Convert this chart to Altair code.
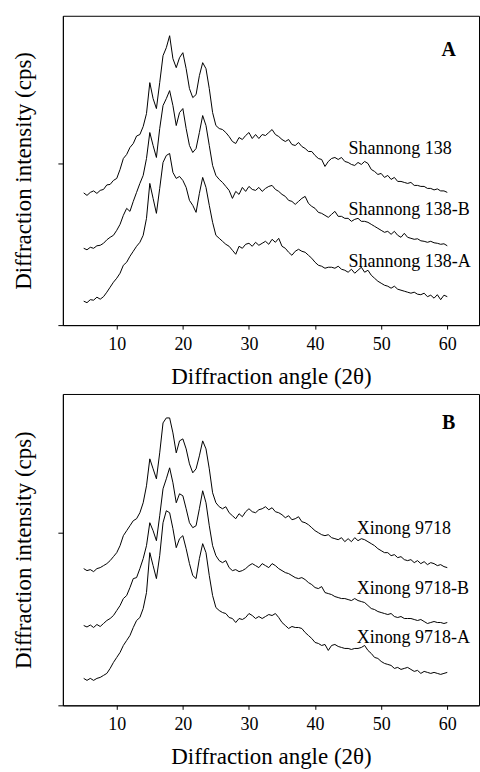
import altair as alt
import pandas as pd

# Sampling angles (2θ), degrees
ANGLES = [
    5.0, 5.5, 6.0, 6.5, 7.0, 7.5, 8.0, 8.5, 9.0, 9.5,
    10.0, 10.5, 11.0, 11.5, 12.0, 12.5, 13.0, 13.5, 14.0, 14.5,
    15.0, 15.5, 16.0, 16.5, 17.0, 17.5, 18.0, 18.5, 19.0, 19.5,
    20.0, 20.5, 21.0, 21.5, 22.0, 22.5, 23.0, 23.5, 24.0, 24.5,
    25.0, 25.5, 26.0, 26.5, 27.0, 27.5, 28.0, 28.5, 29.0, 29.5,
    30.0, 30.5, 31.0, 31.5, 32.0, 32.5, 33.0, 33.5, 34.0, 34.5,
    35.0, 35.5, 36.0, 36.5, 37.0, 37.5, 38.0, 38.5, 39.0, 39.5,
    40.0, 40.5, 41.0, 41.5, 42.0, 42.5, 43.0, 43.5, 44.0, 44.5,
    45.0, 45.5, 46.0, 46.5, 47.0, 47.5, 48.0, 48.5, 49.0, 49.5,
    50.0, 50.5, 51.0, 51.5, 52.0, 52.5, 53.0, 53.5, 54.0, 54.5,
    55.0, 55.5, 56.0, 56.5, 57.0, 57.5, 58.0, 58.5, 59.0, 59.5,
    60.0,
]

# Panel A (offset traces, arbitrary intensity units)
SHANNONG_138 = [
    132.5, 130, 133, 134.5, 132, 135, 136, 140.5, 141, 145,
    147, 156, 167, 171, 178, 182, 189.5, 191, 199, 212,
    243, 227, 217, 243, 270, 278, 290, 267, 258, 268,
    273, 257, 237, 228, 231, 250, 263, 257, 237, 213,
    200, 197, 196, 193, 189, 184, 182, 188, 186, 190,
    193, 187, 191, 187, 191, 190, 193, 196, 191, 189,
    186, 184, 186, 181, 180, 183, 179, 177, 174, 174,
    170, 167, 166, 159, 164, 167, 168, 166, 168, 164,
    163, 161, 160, 163, 161, 164, 162, 156, 154, 151,
    152, 148, 150, 146, 148, 144, 144, 143, 142, 143,
    140, 140, 139, 139, 137, 137, 135.5, 136.5, 134.5, 134.5,
    133,
]
SHANNONG_138_B = [
    77, 75.5, 78, 77, 79.5, 80, 82, 85.5, 88, 90,
    95, 101, 110, 117, 114, 124, 133, 142, 150, 167,
    193, 180, 168, 197, 220, 227, 235, 220, 200, 213,
    217, 197, 180, 173, 177, 193, 210, 200, 180, 160,
    150, 146, 143, 139, 135, 127, 134, 131, 138, 134,
    139, 136, 135, 138, 134, 137, 139, 140, 136, 134,
    131, 129, 125, 124, 121, 124, 127, 129, 122, 119,
    117, 113, 112, 110, 108, 111, 114, 109, 109, 107,
    107, 104, 106, 107, 104, 104, 103, 101, 99, 97,
    95, 93, 94, 91, 94, 90, 88, 92, 88, 87,
    86, 86.5, 84.5, 84, 83, 84, 82.5, 82, 81, 81.5,
    79.5,
]
SHANNONG_138_A = [
    24, 22.5, 25.5, 25, 28, 26, 28.5, 33, 38, 43,
    47, 52, 60, 63, 69, 74, 79, 83, 90, 107,
    142, 127, 112, 137, 163, 170, 172, 153, 147, 149,
    145, 138, 125, 120, 113, 132, 148, 138, 120, 103,
    90, 87, 84, 81, 79, 75, 71, 79, 77, 81,
    82, 79, 83, 80, 82, 84, 81, 86, 83, 87,
    79, 77, 73, 70, 74, 76, 74, 73, 70, 67,
    63, 60, 59, 57, 58, 58, 57, 59, 56, 55,
    53, 56, 52, 55, 58, 53, 55, 50, 47, 44,
    42, 40, 39, 37, 39, 36, 35, 34, 33, 32,
    33, 31, 30.5, 32, 28.5, 30, 27, 30.5, 25.5, 30,
    28.5,
]

# Panel B
XINONG_9718 = [
    137, 135, 136, 134, 137, 138, 140, 142, 145, 149,
    153, 160, 170, 175, 180, 185, 187, 193, 203, 220,
    247, 237, 227, 253, 283, 288, 288, 273, 253, 265,
    267, 257, 242, 233, 237, 250, 265, 257, 237, 213,
    203, 199, 197, 199, 193, 190, 187, 192, 189, 194,
    197, 194, 193, 196, 197, 199, 196, 198, 194, 193,
    191, 188, 190, 186, 187, 189, 184, 183, 181, 178,
    175, 173, 171, 170, 171, 168, 167, 166, 168, 164,
    167, 164, 168, 165, 167, 166, 164, 162, 160, 157,
    155, 153, 153, 150, 151, 148, 149, 146, 145, 146,
    143, 145, 142, 144, 141, 143, 142, 140, 141, 139,
    138,
]
XINONG_9718_B = [
    80, 78.5, 80.5, 78, 81, 79, 82, 85, 87, 90,
    95, 100, 107, 110, 118, 127, 128, 137, 147, 160,
    183, 175, 165, 190, 217, 227, 238, 223, 203, 212,
    210, 197, 183, 178, 180, 197, 215, 203, 180, 160,
    150, 145, 143, 145, 138, 135, 136, 134, 135, 137,
    140, 142, 140, 138, 142, 140, 138, 142, 140, 137,
    135, 133, 132, 130, 128, 127, 128, 126, 123, 121,
    118, 117, 119, 113, 112, 111, 109, 108, 107, 107,
    106, 105, 107, 105, 104, 103, 100, 97, 96, 94,
    93, 92, 91, 92, 89, 88, 89, 87, 87, 87,
    86, 85, 86, 84, 82, 83, 84, 83, 83, 82,
    83,
]
XINONG_9718_A = [
    27, 25, 27, 25, 27, 28, 30, 32, 37, 43,
    48, 53, 60, 65, 70, 78, 85, 88, 97, 113,
    153, 140, 127, 150, 183, 195, 193, 177, 158, 167,
    170, 157, 142, 130, 127, 147, 162, 153, 130, 110,
    98, 95, 93, 92, 88, 87, 83, 87, 86, 88,
    92, 90, 87, 89, 87, 89, 91, 90, 92, 88,
    83, 80, 77, 79, 78, 78, 77, 73, 70, 67,
    63, 62, 60, 61, 55, 60, 61, 59, 58, 57,
    57, 56, 57, 57, 58, 60, 55, 52, 48, 47,
    44, 42, 41, 40, 37, 38, 36, 37, 38, 36,
    34, 35, 32, 34, 33, 32, 33, 32, 31, 32,
    33,
]

NAMES_A = ["Shannong 138", "Shannong 138-B", "Shannong 138-A"]
NAMES_B = ["Xinong 9718", "Xinong 9718-B", "Xinong 9718-A"]
LABEL_Y_A = [176.5, 115.5, 63.5]
LABEL_Y_B = [176.7, 116.7, 67.7]
LABEL_X_A = 45.06
LABEL_X_B = 46.3
X_TICKS = [10, 20, 30, 40, 50, 60]
X_DOMAIN = [1.85, 64.8]

SERIF = "Liberation Serif"


def panel(series, names, label_x, label_ys, letter, letter_x, letter_y, ymax, ytick, height):
    rows = []
    for name, vals in zip(names, series):
        for a, v in zip(ANGLES, vals):
            rows.append({"angle": a, "intensity": v, "sample": name})
    df = pd.DataFrame(rows)

    x = alt.X(
        "angle:Q",
        scale=alt.Scale(domain=X_DOMAIN, nice=False, zero=False),
        axis=alt.Axis(values=X_TICKS, title="Diffraction angle (2θ)", tickSize=4,
                      labelPadding=6, titlePadding=12, format="d", grid=False),
    )
    y = alt.Y(
        "intensity:Q",
        scale=alt.Scale(domain=[0, ymax], nice=False, zero=False),
        axis=alt.Axis(values=[0, ytick], labels=False, title="Diffraction intensity (cps)",
                      tickSize=5, titlePadding=22, grid=False),
    )

    lines = alt.Chart(df).mark_line(color="black", strokeWidth=1).encode(
        x=x, y=y, detail="sample:N"
    )
    lab_df = pd.DataFrame({"angle": [label_x] * len(names), "intensity": label_ys, "text": names})
    labels = alt.Chart(lab_df).mark_text(
        align="left", baseline="middle", font=SERIF, fontSize=18, color="black"
    ).encode(x=x, y=y, text="text:N")
    let_df = pd.DataFrame({"angle": [letter_x], "intensity": [letter_y], "text": [letter]})
    letter_mark = alt.Chart(let_df).mark_text(
        align="center", baseline="middle", font=SERIF, fontSize=20, fontWeight="bold", color="black"
    ).encode(x=x, y=y, text="text:N")
    return alt.layer(lines, labels, letter_mark).properties(width=417, height=height)


top = panel([SHANNONG_138, SHANNONG_138_B, SHANNONG_138_A], NAMES_A, LABEL_X_A, LABEL_Y_A,
            "A", 60.2, 275.5, 310, 162.5, 310)
bottom = panel([XINONG_9718, XINONG_9718_B, XINONG_9718_A], NAMES_B, LABEL_X_B, LABEL_Y_B,
               "B", 60.2, 283.4, 312, 173.3, 312)

chart = alt.vconcat(top, bottom, spacing=4).properties(
    padding={"left": 12, "top": 14, "right": 0, "bottom": 0},
    background="white",
).configure_view(
    stroke="black", strokeWidth=1
).configure_axis(
    grid=False, domainColor="black", tickColor="black", labelColor="black", titleColor="black",
    labelFont=SERIF, titleFont=SERIF, labelFontSize=18, titleFontSize=23,
    titleFontWeight="normal", domainWidth=1, tickWidth=1,
)

chart.save("out.html", embed_options={"renderer": "svg", "actions": False})
